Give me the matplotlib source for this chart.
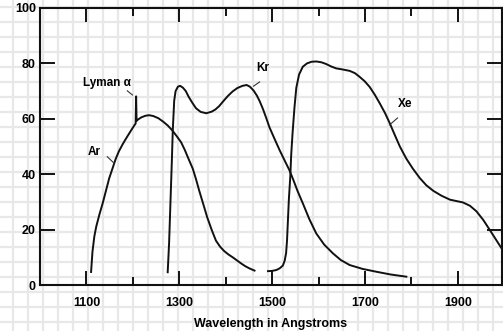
#!/usr/bin/env python3
# -*- coding: utf-8 -*-

# Import packages
import numpy as np
import matplotlib
matplotlib.use("Agg")
import matplotlib.pyplot as plt

# DATA
ar_wavelength = [1110, 1113, 1117, 1121, 1128, 1135, 1142, 1149, 1156, 1163, 1170,
                 1178, 1185, 1195, 1203, 1206, 1207, 1208, 1210, 1218, 1227, 1235,
                 1244, 1255, 1265, 1275, 1285, 1295, 1304, 1312, 1320, 1329, 1336,
                 1343, 1352, 1360, 1370, 1379, 1388, 1397, 1406, 1415, 1424, 1433,
                 1442, 1451, 1462]
ar_response = [4.7, 12, 17.5, 21, 25.5, 29.5, 34, 38.5, 42, 45.5, 48.3,
               50.8, 52.8, 55.5, 57.6, 58.3, 68.1, 59.2, 59.6, 60.5, 61.1, 61.3,
               61.0, 60.2, 59.0, 57.6, 55.8, 53.6, 51.5, 48.7, 45.5, 42, 38.2,
               34, 29, 24.5, 19.8, 16, 13.8, 12.2, 11, 10, 8.9, 7.8,
               6.8, 6, 5.2]

kr_wavelength = [1275, 1278, 1281, 1284, 1286, 1289, 1292, 1297, 1302, 1308, 1314,
                 1320, 1328, 1336, 1346, 1358, 1370, 1378, 1386, 1395, 1405, 1415,
                 1425, 1436, 1445, 1452, 1460, 1467, 1473, 1480, 1487, 1494, 1505,
                 1516, 1527, 1537, 1545, 1555, 1566, 1580, 1595, 1612, 1631, 1648,
                 1667, 1695, 1724, 1755, 1789]
kr_response = [4.6, 15, 30, 45, 56, 66.5, 70, 71.6, 71.9, 71.2, 70,
               68, 65.8, 63.8, 62.5, 62, 62.6, 63.4, 64.6, 66.4, 68.3, 69.9,
               71.1, 71.9, 72.2, 71.6, 70.2, 68.4, 66.4, 63.6, 60.4, 57, 52.8,
               48.7, 44.9, 41.5, 38.2, 33.8, 29.5, 23.8, 18.6, 14.6, 11.4, 9,
               7.2, 5.8, 4.8, 3.8, 3]

xe_wavelength = [1491, 1500, 1509, 1516, 1523, 1527, 1530, 1532, 1534, 1536, 1539,
                 1541, 1544, 1548, 1552, 1558, 1566, 1575, 1585, 1595, 1606, 1616,
                 1627, 1638, 1652, 1667, 1678, 1688, 1699, 1710, 1721, 1732, 1743,
                 1753, 1764, 1775, 1789, 1803, 1818, 1832, 1847, 1865, 1883, 1897,
                 1911, 1926, 1940, 1955, 1969, 1982, 1995]
xe_response = [5, 5.1, 5.4, 6, 7, 8.8, 11.5, 16, 23.5, 31, 39,
               47, 55, 64, 71.2, 76, 78.8, 80, 80.6, 80.7, 80.4, 79.8,
               78.9, 78.2, 77.8, 77.3, 76.5, 75.2, 73.6, 71.5, 68.7, 65.5, 62.1,
               58.5, 54.2, 50, 45.6, 42, 38.6, 36, 34, 32.2, 30.8, 30.3,
               29.8, 28.6, 26.6, 23.4, 19.8, 16.4, 13]

x_major = [1100, 1300, 1500, 1700, 1900]
x_minor = [1200, 1400, 1600, 1800]
y_major = [0, 20, 40, 60, 80, 100]

W, H = 503, 331
FONT = "Liberation Sans"

fig = plt.figure(figsize=(W / 100, H / 100), dpi=100)

# graph paper behind everything
bg = fig.add_axes([0, 0, 1, 1], zorder=0)
bg.set_xlim(0, W)
bg.set_ylim(H, 0)
bg.axis("off")
for gx in np.arange(13, W, 15):
    bg.axvline(gx, color="#e8e8e8", lw=1.6)
for gy in np.arange(7, H, 15):
    bg.axhline(gy, color="#e8e8e8", lw=1.6)

# main plot
left, right, top, bottom = 40, 502, 8, 285
ax = fig.add_axes([left / W, (H - bottom) / H, (right - left) / W, (bottom - top) / H], zorder=1)
ax.patch.set_alpha(0)

for wl, resp in [(ar_wavelength, ar_response), (kr_wavelength, kr_response),
                 (xe_wavelength, xe_response)]:
    ax.plot(wl, resp, color="#111111", lw=1.4, solid_joinstyle="round")

ax.set_xlim(1000, 1995)
ax.set_ylim(0, 100)

ax.set_xticks(x_major)
ax.set_xticks(x_minor, minor=True)
ax.set_yticks(y_major)
ax.set_yticklabels([str(v) for v in y_major])
ax.tick_params(axis="x", which="major", direction="in", length=10, width=1.3,
               top=True, pad=9, labelsize=9)
ax.tick_params(axis="x", which="minor", direction="in", length=5.5, width=1.3, top=True)
ax.tick_params(axis="y", which="major", direction="in", length=11, width=1.3,
               right=True, pad=3, labelsize=9)
for lab in ax.get_xticklabels() + ax.get_yticklabels():
    lab.set_fontfamily(FONT)
    lab.set_fontweight("bold")

for side in ["left", "bottom", "top", "right"]:
    ax.spines[side].set_linewidth(1.5)
    ax.spines[side].set_color("#111111")

ax.set_xlabel("Wavelength in Angstroms", fontfamily=FONT, fontweight="bold",
              fontsize=9, labelpad=6)

# curve labels with short leader lines
label_style = dict(fontfamily=FONT, fontweight="bold", fontsize=8.5, ha="center", va="center")
ax.text(1145, 73, "Lyman \u03b1", **label_style)
ax.plot([1188, 1199], [70.1, 68.6], color="#333333", lw=0.8)
ax.text(1117, 48, "Ar", **label_style)
ax.plot([1145, 1160], [46.3, 43.9], color="#333333", lw=0.8)
ax.text(1479, 78.5, "Kr", **label_style)
ax.plot([1460, 1473], [71.8, 73.3], color="#333333", lw=0.8)
ax.text(1787, 65.3, "Xe", **label_style)
ax.plot([1753, 1770], [57.8, 60.3], color="#333333", lw=0.8)

fig.savefig("out.png", dpi=100)
plt.close(fig)
